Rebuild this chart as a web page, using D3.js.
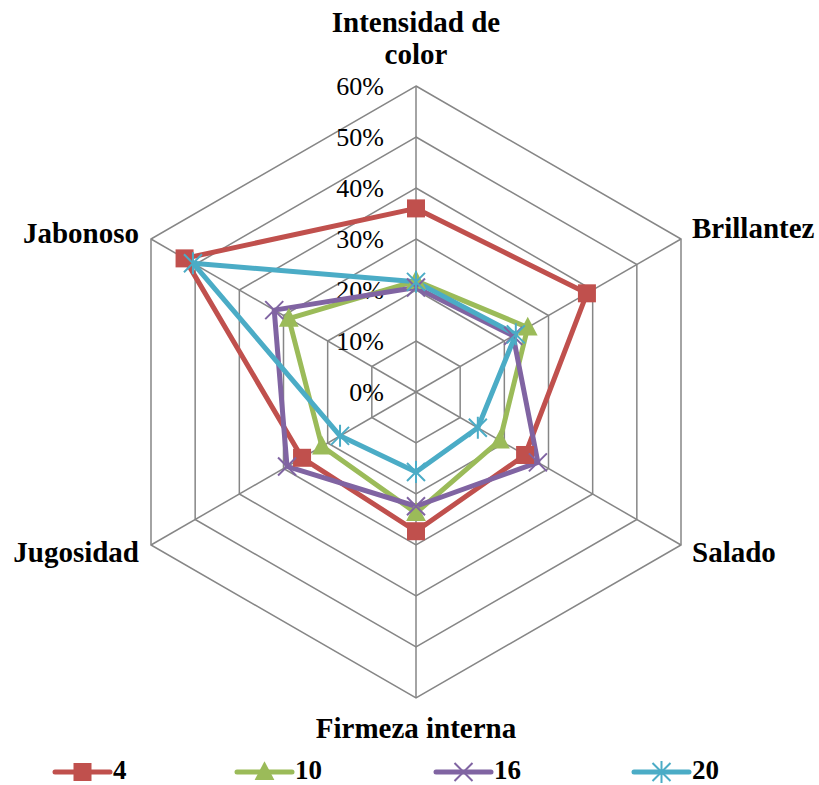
<!DOCTYPE html>
<html>
<head>
<meta charset="utf-8">
<script src="https://cdn.jsdelivr.net/npm/d3@7"></script>
<style>
  body { margin: 0; background: #fff; }
</style>
</head>
<body>
<svg id="chart" width="819" height="785"></svg>
<script>
// -----------------------------------------------------------------------------

var axes = ['Intensidad de color', 'Brillantez', 'Salado', 'Firmeza interna', 'Jugosidad', 'Jabonoso'];
var seriesNames = ['4', '10', '16', '20'];
var values4 = [0.36, 0.387, 0.247, 0.273, 0.258, 0.524];
var values10 = [0.218, 0.253, 0.19, 0.237, 0.213, 0.288];
var values16 = [0.205, 0.22, 0.276, 0.224, 0.292, 0.321];
var values20 = [0.216, 0.226, 0.14, 0.157, 0.172, 0.505];
var ticks = [0, 0.1, 0.2, 0.3, 0.4, 0.5, 0.6];
var colors = ['#C0504D', '#9BBB59', '#8064A2', '#4BACC6'];
var markers = ['square', 'triangle', 'x', 'star'];

// -----------------------------------------------------------------------------

var FONT = "'Liberation Serif', 'Times New Roman', Tinos, 'DejaVu Serif', serif";
var svg = d3.select('#chart').attr('font-family', FONT);
var cx = 416, cy = 392;
var r = d3.scaleLinear().domain([0, 0.6]).range([0, 306]);
var n = axes.length;

function angle(i) { return -Math.PI / 2 + i * 2 * Math.PI / n; }
function px(i, v) { return cx + r(v) * Math.cos(angle(i)); }
function py(i, v) { return cy + r(v) * Math.sin(angle(i)); }

// - - - - - - - - - - - - - - - - - - - - - - - - - - - - - - - - - - - - - -
// grid

var gGrid = svg.append('g').attr('class', 'grid');

gGrid.selectAll('polygon')
  .data(ticks.slice(1))
  .join('polygon')
  .attr('points', function (t) {
    return d3.range(n).map(function (i) { return px(i, t) + ',' + py(i, t); }).join(' ');
  })
  .attr('fill', 'none')
  .attr('stroke', '#868686')
  .attr('stroke-width', 1.5);

gGrid.selectAll('line')
  .data(d3.range(n))
  .join('line')
  .attr('x1', cx).attr('y1', cy)
  .attr('x2', function (i) { return px(i, 0.6); })
  .attr('y2', function (i) { return py(i, 0.6); })
  .attr('stroke', '#868686')
  .attr('stroke-width', 1.5);

// tick labels
svg.append('g').selectAll('text')
  .data(ticks)
  .join('text')
  .attr('x', cx - 32)
  .attr('y', function (t) { return cy - r(t) + 9; })
  .attr('text-anchor', 'end')
  .attr('font-family', FONT)
  .attr('font-size', 26)
  .text(function (t) { return d3.format('.0%')(t); });

// - - - - - - - - - - - - - - - - - - - - - - - - - - - - - - - - - - - - - -
// axis labels

var labelPos = [
  { x: cx, y: 32, anchor: 'middle', lines: ['Intensidad de', 'color'] },
  { x: 692, y: 238, anchor: 'start', lines: ['Brillantez'] },
  { x: 692, y: 562, anchor: 'start', lines: ['Salado'] },
  { x: cx, y: 738, anchor: 'middle', lines: ['Firmeza interna'] },
  { x: 139, y: 562, anchor: 'end', lines: ['Jugosidad'] },
  { x: 139, y: 243, anchor: 'end', lines: ['Jabonoso'] }
];

var gLabels = svg.append('g').attr('class', 'axis-labels');
labelPos.forEach(function (d) {
  var t = gLabels.append('text')
    .attr('text-anchor', d.anchor)
    .attr('font-family', FONT)
    .attr('font-size', 29)
    .attr('font-weight', 'bold');
  d.lines.forEach(function (line, k) {
    t.append('tspan').attr('x', d.x).attr('y', d.y + k * 32).text(line);
  });
});

// - - - - - - - - - - - - - - - - - - - - - - - - - - - - - - - - - - - - - -
// markers

function drawMarker(g, type, x, y, color, s) {
  if (type === 'square') {
    g.append('rect')
      .attr('x', x - s / 2).attr('y', y - s / 2)
      .attr('width', s).attr('height', s)
      .attr('fill', color);
  } else if (type === 'triangle') {
    g.append('path')
      .attr('d', 'M' + x + ',' + (y - s * 0.6) + 'L' + (x + s * 0.55) + ',' + (y + s * 0.45) +
        'L' + (x - s * 0.55) + ',' + (y + s * 0.45) + 'Z')
      .attr('fill', color);
  } else if (type === 'x') {
    var h = s / 2;
    g.append('path')
      .attr('d', 'M' + (x - h) + ',' + (y - h) + 'L' + (x + h) + ',' + (y + h) +
        'M' + (x - h) + ',' + (y + h) + 'L' + (x + h) + ',' + (y - h))
      .attr('stroke', color).attr('stroke-width', 2).attr('fill', 'none');
  } else {
    var h2 = s / 2;
    g.append('path')
      .attr('d', 'M' + (x - h2) + ',' + (y - h2) + 'L' + (x + h2) + ',' + (y + h2) +
        'M' + (x - h2) + ',' + (y + h2) + 'L' + (x + h2) + ',' + (y - h2) +
        'M' + x + ',' + (y - h2 - 2) + 'L' + x + ',' + (y + h2 + 2))
      .attr('stroke', color).attr('stroke-width', 2).attr('fill', 'none');
  }
}

// - - - - - - - - - - - - - - - - - - - - - - - - - - - - - - - - - - - - - -
// series

var allValues = [values4, values10, values16, values20];
var line = d3.line().curve(d3.curveLinearClosed);

var gSeries = svg.append('g').attr('class', 'series');
allValues.forEach(function (vals, s) {
  var pts = vals.map(function (v, i) { return [px(i, v), py(i, v)]; });
  gSeries.append('path')
    .attr('d', line(pts))
    .attr('fill', 'none')
    .attr('stroke', colors[s])
    .attr('stroke-width', 5)
    .attr('stroke-linejoin', 'round');
});
allValues.forEach(function (vals, s) {
  var g = gSeries.append('g');
  vals.forEach(function (v, i) {
    drawMarker(g, markers[s], px(i, v), py(i, v), colors[s], 18);
  });
});

// - - - - - - - - - - - - - - - - - - - - - - - - - - - - - - - - - - - - - -
// legend

var legendX = [55, 237, 436, 634];
var gLegend = svg.append('g').attr('class', 'legend');
seriesNames.forEach(function (name, s) {
  var x0 = legendX[s], y0 = 772;
  gLegend.append('line')
    .attr('x1', x0).attr('y1', y0).attr('x2', x0 + 55).attr('y2', y0)
    .attr('stroke', colors[s]).attr('stroke-width', 5).attr('stroke-linecap', 'round');
  drawMarker(gLegend.append('g'), markers[s], x0 + 27.5, y0, colors[s], 18);
  gLegend.append('text')
    .attr('x', x0 + 58).attr('y', 779)
    .attr('font-family', FONT)
    .attr('font-size', 27).attr('font-weight', 'bold')
    .text(name);
});

// -----------------------------------------------------------------------------
</script>
</body>
</html>
